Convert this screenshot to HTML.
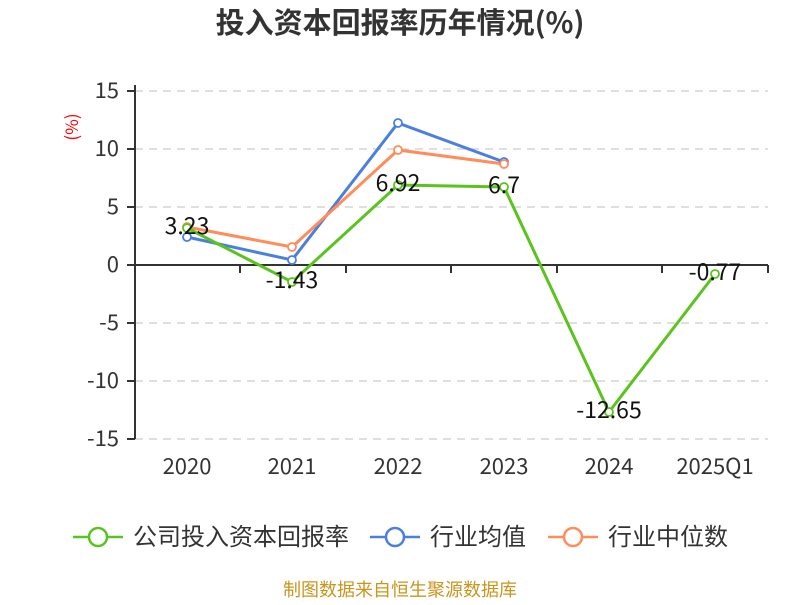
<!DOCTYPE html>
<html><head><meta charset="utf-8"><style>body{margin:0;background:#fff}</style></head><body>
<svg width="800" height="600" xmlns="http://www.w3.org/2000/svg" font-family="Noto Sans CJK SC, sans-serif">
<text x="400" y="33" text-anchor="middle" font-size="29" font-weight="bold" fill="#333">投入资本回报率历年情况(%)</text>
<g stroke="#ccc" stroke-dasharray="8,6" stroke-width="1.3">
<line x1="135" y1="91" x2="768" y2="91"/><line x1="135" y1="149" x2="768" y2="149"/><line x1="135" y1="207" x2="768" y2="207"/>
<line x1="135" y1="323" x2="768" y2="323"/><line x1="135" y1="381" x2="768" y2="381"/><line x1="135" y1="439" x2="768" y2="439"/>
</g>
<g stroke="#333" stroke-width="2">
<line x1="135" y1="85" x2="135" y2="439"/><line x1="135" y1="265" x2="768" y2="265"/>
<line x1="127" y1="91" x2="135" y2="91"/><line x1="127" y1="149" x2="135" y2="149"/><line x1="127" y1="207" x2="135" y2="207"/><line x1="127" y1="265" x2="135" y2="265"/><line x1="127" y1="323" x2="135" y2="323"/><line x1="127" y1="381" x2="135" y2="381"/><line x1="127" y1="439" x2="135" y2="439"/>
<line x1="240" y1="265" x2="240" y2="273"/><line x1="346" y1="265" x2="346" y2="273"/><line x1="451" y1="265" x2="451" y2="273"/><line x1="557" y1="265" x2="557" y2="273"/><line x1="662" y1="265" x2="662" y2="273"/><line x1="768" y1="265" x2="768" y2="273"/>
</g>
<g font-size="22" fill="#333" text-anchor="end">
<text x="119" y="98">15</text><text x="119" y="156">10</text><text x="119" y="214">5</text><text x="119" y="272">0</text><text x="119" y="330">-5</text><text x="119" y="388">-10</text><text x="119" y="446">-15</text>
</g>
<text x="78" y="127" font-size="17" fill="red" text-anchor="middle" transform="rotate(-90 78 127)">(%)</text>
<g font-size="22" fill="#333" text-anchor="middle">
<text x="187" y="474">2020</text><text x="292" y="474">2021</text><text x="398" y="474">2022</text><text x="504" y="474">2023</text><text x="609" y="474">2024</text><text x="715" y="474">2025Q1</text>
</g>
<g fill="none" stroke-width="3">
<polyline stroke="#4a7fe0" points="187,237 292,260 398,123 504,162"/>
<polyline stroke="#ff8c5a" points="187,227 292,247 398,150 504,164"/>
<polyline stroke="#5ac31e" points="187,228 292,282 398,185 504,187 609,412 715,274"/>
</g>
<g fill="#fff" stroke-width="1.8">
<g stroke="#4a7fe0"><circle cx="187" cy="237" r="4"/><circle cx="292" cy="260" r="4"/><circle cx="398" cy="123" r="4"/><circle cx="504" cy="162" r="4"/></g>
<g stroke="#ff8c5a"><circle cx="187" cy="227" r="4"/><circle cx="292" cy="247" r="4"/><circle cx="398" cy="150" r="4"/><circle cx="504" cy="164" r="4"/></g>
<g stroke="#5ac31e"><circle cx="187" cy="228" r="4"/><circle cx="292" cy="282" r="4"/><circle cx="398" cy="185" r="4"/><circle cx="504" cy="187" r="4"/><circle cx="609" cy="412" r="4"/><circle cx="715" cy="274" r="4"/></g>
</g>
<g font-size="23" fill="#111" text-anchor="middle">
<text x="187" y="234">3.23</text><text x="292" y="288">-1.43</text><text x="398" y="191">6.92</text><text x="504" y="193">6.7</text><text x="609" y="418">-12.65</text><text x="715" y="280">-0.77</text>
</g>
<g stroke-width="2.5" fill="#fff">
<line x1="73" y1="537" x2="123" y2="537" stroke="#5ac31e"/><circle cx="98" cy="537" r="9" stroke="#5ac31e"/>
<line x1="370" y1="537" x2="420" y2="537" stroke="#4a7fe0"/><circle cx="395" cy="537" r="9" stroke="#4a7fe0"/>
<line x1="548" y1="537" x2="598" y2="537" stroke="#ff8c5a"/><circle cx="573" cy="537" r="9" stroke="#ff8c5a"/>
</g>
<g font-size="24" fill="#333">
<text x="133" y="545">公司投入资本回报率</text><text x="430" y="545">行业均值</text><text x="608" y="545">行业中位数</text>
</g>
<text x="400" y="596" font-size="18" fill="#c8961e" text-anchor="middle">制图数据来自恒生聚源数据库</text>
</svg>
</body></html>
